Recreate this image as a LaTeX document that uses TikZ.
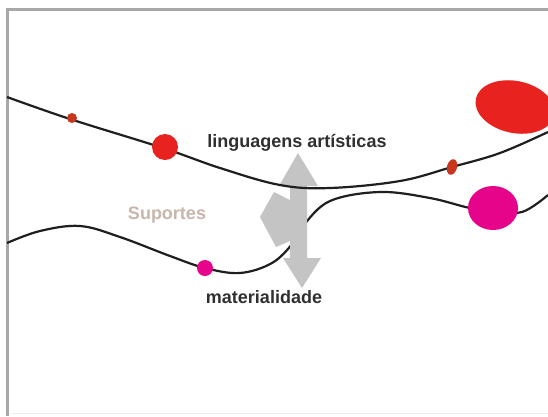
\documentclass[tikz,border=0pt]{standalone}
\usepackage{fontspec}
\setmainfont{Liberation Sans}
\definecolor{redA}{HTML}{E8231F}
\definecolor{redB}{HTML}{C9361E}
\definecolor{pinkA}{HTML}{E6058A}
\definecolor{arrowgray}{HTML}{C4C4C4}
\definecolor{framegray}{HTML}{A8A8A8}
\definecolor{txt}{HTML}{303030}
\definecolor{tan}{HTML}{C8B6AC}
\begin{document}
\begin{tikzpicture}[x=1pt,y=-1pt,
  curve/.style={draw=black!88, line width=2.2pt},
  lbl/.style={font=\bfseries\fontsize{18}{20}\selectfont, text=txt, inner sep=0pt}]
\useasboundingbox (0,0) rectangle (548,416);
\fill[white] (0,0) rectangle (548,416);
% frame
\draw[framegray, line width=3pt] (7,416) -- (7,9) -- (548,9);
\draw[black!8, line width=1pt] (11,413) -- (548,413);
% lower curve (behind arrow)
\draw[curve] plot[smooth, tension=0.6] coordinates {(7,243) (40,231) (80,226) (120,237) (170,256) (205,268) (240,273) (272,263) (293,243) (303,226) (330,201) (380,192) (430,198) (470,208) (493,210) (522,212) (548,195)};
% arrow
\fill[arrowgray] (298,153) -- (318,186) -- (307,186) -- (307,258) -- (321,258) -- (302,288) -- (283,258) -- (290,258) -- (290,241) -- (276,247) -- (260,217) -- (274,192) -- (290,200) -- (290,186) -- (279,186) -- cycle;
% upper curve
\draw[curve] plot[smooth, tension=0.6] coordinates {(7,97) (70,119) (163,148) (220,168) (280,185) (330,188) (400,181) (452,167) (500,153) (548,132)};
% blobs
\fill[redA] (515,107) ellipse[x radius=40, y radius=26, rotate=-12];
\fill[redA] (165,147) circle (13);
\fill[redB] (72,118) circle (5);
\fill[redB] (452,167) ellipse[x radius=5, y radius=8, rotate=-15];
\fill[pinkA] (493,208) ellipse[x radius=25, y radius=22];
\fill[pinkA] (205,268) circle (8);
% labels
\node[lbl] (ling) at (297,143) {linguagens artísticas};
\node[lbl] (mat) at (264,297) {materialidade};
\node[lbl, text=tan] (sup) at (167,215) {Suportes};
\end{tikzpicture}
\end{document}
